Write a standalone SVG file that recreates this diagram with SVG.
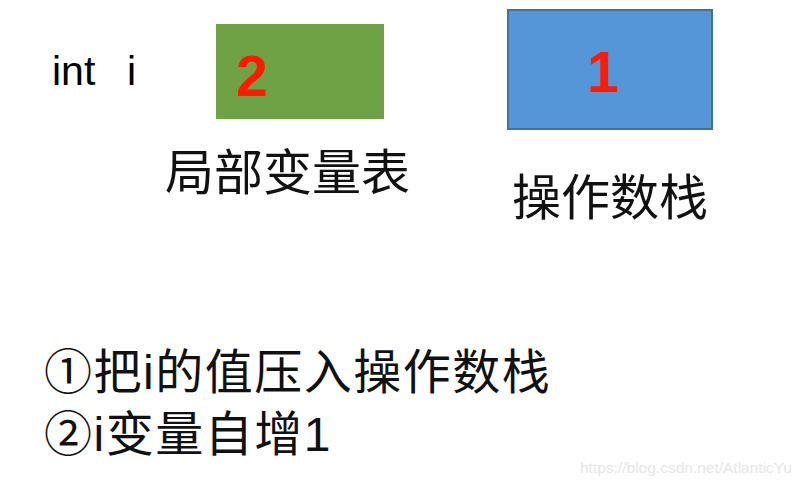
<svg xmlns="http://www.w3.org/2000/svg" width="805" height="486" viewBox="0 0 805 486">
<style>
.t{font-family:"Liberation Sans","Noto Sans CJK SC",sans-serif;fill:#000}
.num{font-family:"Liberation Sans",Arial,sans-serif;font-weight:bold;fill:#ff1a00;font-size:57px}
.cn{font-family:"Noto Sans CJK SC","Liberation Sans",sans-serif;fill:#111;font-size:49px}
.steps{font-family:"Liberation Sans","Noto Sans CJK SC",sans-serif;fill:#111;font-size:48px;letter-spacing:1.5px}
</style>
<rect width="805" height="486" fill="#fff"/>
<text class="t" x="52" y="85" font-size="41">int</text>
<text class="t" x="127" y="85" font-size="41">i</text>
<g id="local-vars">
<rect x="216" y="24" width="168" height="95" fill="#6ea244"/>
<text class="num" x="236" y="96">2</text>
<text class="cn" x="165" y="190" font-size="50">局部变量表</text>
</g>
<g id="operand-stack">
<rect x="508" y="10" width="204" height="119" fill="#5596d8" stroke="#41719c" stroke-width="2"/>
<text class="num" x="587" y="92">1</text>
<text class="cn" x="512" y="215">操作数栈</text>
</g>
<g id="connectors"/>
<text class="steps" x="44" y="389">①把i的值压入操作数栈</text>
<text class="steps" x="44" y="451">②i变量自增1</text>
<text x="580" y="473" font-family="Liberation Sans,sans-serif" font-size="15.5" fill="#e6e6e6">https://blog.csdn.net/AtlanticYu</text>
</svg>
